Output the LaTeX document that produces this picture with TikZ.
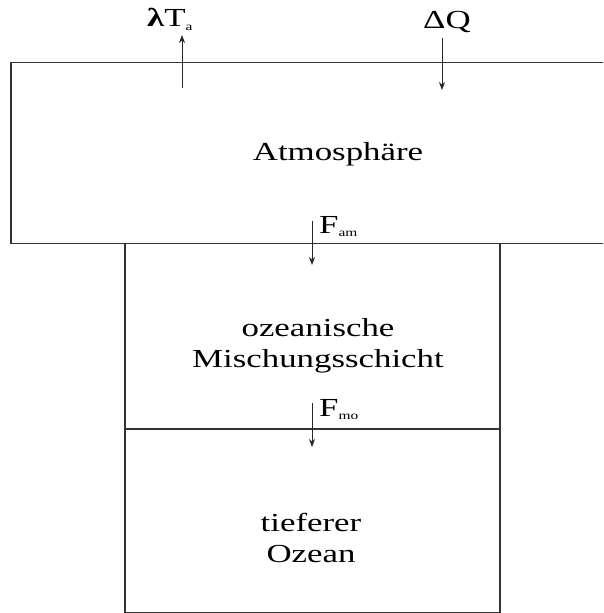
\documentclass[tikz,border=0pt]{standalone}
\usepackage{fontspec}
\setmainfont[FakeStretch=1.34]{Liberation Serif}
\usetikzlibrary{arrows.meta}
\newcommand{\lowidx}[1]{\raisebox{-3.5pt}{\fontsize{11.5}{11.5}\selectfont #1}}
\begin{document}
\begin{tikzpicture}[x=1pt,y=-1pt,
  boxline/.style={line width=1.1pt, draw=black!80},
  flux/.style={line width=0.8pt, draw=black!85, -{Stealth[length=8pt,width=6pt]}},
  area/.style={font=\fontsize{26}{31}\selectfont, align=center, inner sep=0pt},
  symb/.style={font=\fontsize{26}{29}\selectfont, inner sep=0pt, anchor=base west}]
\useasboundingbox (0,0) rectangle (603,613);
\clip (0,0) rectangle (603,613);

% atmosphere layer; its right side runs off the page
\draw[boxline] (11,62.5) rectangle (640,243.5);
% ocean column: mixed layer above the deep ocean
\draw[boxline] (125,243.5) rectangle (500,612.5);
\draw[boxline] (125,429) -- (500,429);

% layer names
\node[area, anchor=base] (atm) at (338,160) {Atmosphäre};
\node[area] (mix) at (318,346) {ozeanische\\Mischungsschicht};
\node[area] (deep) at (311,538) {tieferer\\Ozean};

% flux labels
\node[symb] (lam) at (147,27) {\textbf{λ}T\lowidx{a}};
\node[symb] (dq) at (423,28) {ΔQ};
\node[symb] (fam) at (319,233) {F\lowidx{am}};
\node[symb] (fmo) at (319,416) {F\lowidx{mo}};

% flux arrows
\coordinate (lamfoot) at (182,88);
\coordinate (lamtip) at (182,35);
\coordinate (dqfoot) at (442,38);
\coordinate (dqtip) at (442,90);
\coordinate (famfoot) at (312,221);
\coordinate (famtip) at (312,265);
\coordinate (fmofoot) at (312,403);
\coordinate (fmotip) at (312,447);
\draw[flux] (lamfoot) -- (lamtip);
\draw[flux] (dqfoot) -- (dqtip);
\draw[flux] (famfoot) -- (famtip);
\draw[flux] (fmofoot) -- (fmotip);
\end{tikzpicture}
\end{document}
